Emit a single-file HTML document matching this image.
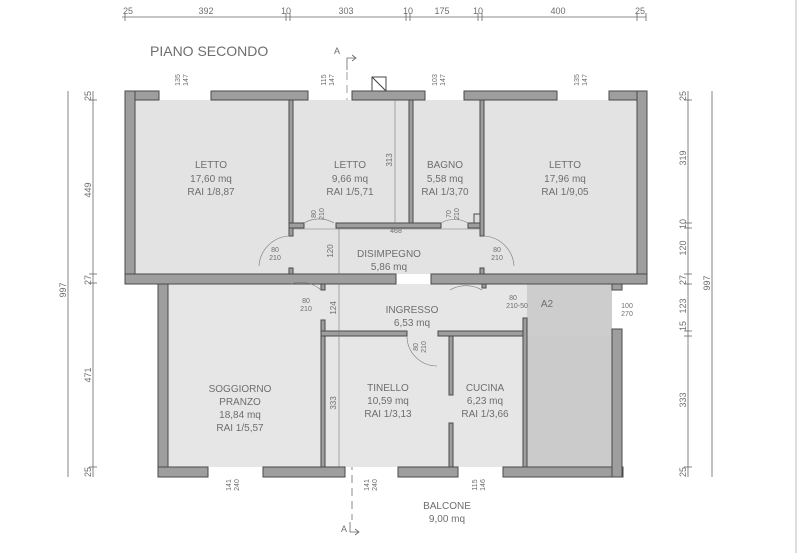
<!DOCTYPE html>
<html><head><meta charset="utf-8"><style>
html,body{margin:0;padding:0;background:#fff;}
svg{display:block;}
text{font-family:"Liberation Sans",sans-serif;fill:#6e6e6e;}
</style></head><body>
<svg width="800" height="553" viewBox="0 0 800 553" xmlns="http://www.w3.org/2000/svg">
<rect width="800" height="553" fill="#fff"/>
<line x1="796" y1="0" x2="796" y2="553" stroke="#ddd" stroke-width="2"/>
<g stroke="#666" stroke-width="0.8" fill="none">
<line x1="122" y1="17" x2="646" y2="17"/>
<line x1="125" y1="13" x2="125" y2="21"/><line x1="286" y1="13" x2="286" y2="21"/><line x1="290" y1="13" x2="290" y2="21"/>
<line x1="406" y1="13" x2="406" y2="21"/><line x1="410" y1="13" x2="410" y2="21"/><line x1="478" y1="13" x2="478" y2="21"/><line x1="482" y1="13" x2="482" y2="21"/><line x1="637" y1="13" x2="637" y2="21"/><line x1="646" y1="13" x2="646" y2="21"/>
<line x1="68" y1="91" x2="68" y2="477"/><line x1="93" y1="91" x2="93" y2="477"/>
<line x1="89" y1="100" x2="97" y2="100"/><line x1="89" y1="283" x2="97" y2="283"/><line x1="89" y1="274" x2="97" y2="274"/><line x1="89" y1="467" x2="97" y2="467"/>
<line x1="688" y1="91" x2="688" y2="477"/><line x1="712" y1="91" x2="712" y2="477"/>
<line x1="684" y1="100" x2="692" y2="100"/><line x1="684" y1="223" x2="692" y2="223"/><line x1="684" y1="228" x2="692" y2="228"/><line x1="684" y1="274" x2="692" y2="274"/><line x1="684" y1="284" x2="692" y2="284"/><line x1="684" y1="331" x2="692" y2="331"/><line x1="684" y1="336" x2="692" y2="336"/><line x1="684" y1="467" x2="692" y2="467"/>
</g>
<g font-size="9" text-anchor="middle">
<text x="128" y="14">25</text><text x="206" y="14">392</text><text x="286" y="14">10</text><text x="346" y="14">303</text><text x="408" y="14">10</text><text x="442" y="14">175</text><text x="478" y="14">10</text><text x="558" y="14">400</text><text x="640" y="14">25</text>
</g>
<g font-size="9" text-anchor="middle">
<text transform="translate(66,290) rotate(-90)">997</text>
<text transform="translate(91,96) rotate(-90)">25</text><text transform="translate(91,190) rotate(-90)">449</text><text transform="translate(91,280) rotate(-90)">27</text><text transform="translate(91,375) rotate(-90)">471</text><text transform="translate(91,472) rotate(-90)">25</text>
<text transform="translate(686,96) rotate(-90)">25</text><text transform="translate(686,158) rotate(-90)">319</text><text transform="translate(686,224) rotate(-90)">10</text><text transform="translate(686,248) rotate(-90)">120</text><text transform="translate(686,280) rotate(-90)">27</text><text transform="translate(686,306) rotate(-90)">123</text><text transform="translate(686,326) rotate(-90)">15</text><text transform="translate(686,400) rotate(-90)">333</text><text transform="translate(686,472) rotate(-90)">25</text>
<text transform="translate(710,283) rotate(-90)">997</text>
</g>
<text x="150" y="56" font-size="14">PIANO SECONDO</text>
<text x="334" y="54" font-size="9">A</text>
<path d="M347 70 V58 H355 M352 55 L356 58 L352 61" stroke="#666" fill="none" stroke-width="0.8"/>
<line x1="347" y1="72" x2="347" y2="140" stroke="#888" stroke-width="0.8" stroke-dasharray="8,5"/>
<line x1="352" y1="462" x2="352" y2="520" stroke="#888" stroke-width="1" stroke-dasharray="8,5"/>
<text x="341" y="532" font-size="9">A</text>
<path d="M350 522 V532 H358 M355 529 L359 532 L355 535" stroke="#666" fill="none" stroke-width="0.8"/>
<rect x="372" y="77" width="14" height="14" fill="#fff" stroke="#444" stroke-width="1"/>
<line x1="372" y1="77" x2="386" y2="91" stroke="#444"/>
<rect x="135" y="100" width="502" height="174" fill="#e3e3e3"/>
<rect x="168" y="284" width="444" height="183" fill="#e6e6e6"/>
<rect x="527" y="336" width="85" height="131" fill="#cbcbcb"/>
<rect x="527" y="284" width="85" height="52" fill="#cdcdcd"/>
<rect x="396" y="274" width="35" height="10" fill="#fff"/>
<g fill="#9e9e9e" stroke="#4a4a4a" stroke-width="1">
<rect x="125" y="91" width="34" height="9"/><rect x="211" y="91" width="97" height="9"/><rect x="352" y="91" width="73" height="9"/><rect x="464" y="91" width="93" height="9"/><rect x="609" y="91" width="38" height="9"/>
<rect x="125" y="91" width="10" height="193"/>
<rect x="637" y="91" width="10" height="193"/>
<rect x="125" y="274" width="271" height="10"/><rect x="431" y="274" width="216" height="10"/>
<rect x="289" y="100" width="4" height="136"/><rect x="289" y="268" width="4" height="6"/>
<rect x="289" y="223" width="15" height="5"/><rect x="336" y="223" width="105" height="5"/><rect x="468" y="223" width="15" height="5"/>
<rect x="409" y="100" width="4" height="123"/>
<rect x="480" y="100" width="4" height="136"/><rect x="480" y="268" width="4" height="6"/>
<rect x="474" y="214" width="6" height="9" fill="#ddd"/>
<rect x="158" y="284" width="10" height="193"/>
<rect x="158" y="467" width="50" height="10"/><rect x="263" y="467" width="82" height="10"/><rect x="398" y="467" width="60" height="10"/><rect x="503" y="467" width="120" height="10"/>
<rect x="612" y="284" width="10" height="6"/><rect x="612" y="329" width="10" height="148"/>
<rect x="321" y="284" width="4" height="6"/><rect x="321" y="320" width="4" height="147"/>
<rect x="321" y="331" width="86" height="5"/><rect x="438" y="331" width="89" height="5"/>
<rect x="449" y="336" width="4" height="59"/><rect x="449" y="423" width="4" height="44"/>
<rect x="523" y="318" width="4" height="149"/><rect x="482" y="284" width="4" height="4"/>
</g>
<g stroke="#777" stroke-width="0.6" fill="none">
<line x1="339" y1="284" x2="339" y2="467"/>
<line x1="339" y1="228" x2="339" y2="274"/>
<line x1="395" y1="100" x2="395" y2="223"/>
<line x1="293" y1="229" x2="480" y2="229"/>
<path d="M304 223 A30 30 0 0 1 334 223"/><path d="M289 236 A32 32 0 0 0 259 266"/>
<path d="M441 223 A27 27 0 0 1 468 223"/><path d="M484 236 A32 32 0 0 1 514 266"/>
<path d="M321 290 A30 30 0 0 0 291 284"/><path d="M482 290 A32 32 0 0 0 450 290"/>
<path d="M407 336 A30 30 0 0 0 437 366"/>
</g>
<g font-size="10" text-anchor="middle">
<text x="211" y="168">LETTO</text><text x="211" y="182">17,60 mq</text><text x="211" y="195">RAI 1/8,87</text>
<text x="350" y="168">LETTO</text><text x="350" y="182">9,66 mq</text><text x="350" y="195">RAI 1/5,71</text>
<text x="445" y="168">BAGNO</text><text x="445" y="182">5,58 mq</text><text x="445" y="195">RAI 1/3,70</text>
<text x="565" y="168">LETTO</text><text x="565" y="182">17,96 mq</text><text x="565" y="195">RAI 1/9,05</text>
<text x="389" y="257">DISIMPEGNO</text><text x="389" y="270">5,86 mq</text>
<text x="412" y="313">INGRESSO</text><text x="412" y="326">6,53 mq</text>
<text x="547" y="307">A2</text>
<text x="240" y="392">SOGGIORNO</text><text x="240" y="405">PRANZO</text><text x="240" y="418">18,84 mq</text><text x="240" y="431">RAI 1/5,57</text>
<text x="388" y="391">TINELLO</text><text x="388" y="404">10,59 mq</text><text x="388" y="417">RAI 1/3,13</text>
<text x="485" y="391">CUCINA</text><text x="485" y="404">6,23 mq</text><text x="485" y="417">RAI 1/3,66</text>
<text x="447" y="509">BALCONE</text><text x="447" y="522">9,00 mq</text>
</g>
<g font-size="7" text-anchor="middle">
<text x="275" y="252">80</text><text x="275" y="260">210</text>
<text x="497" y="252">80</text><text x="497" y="260">210</text>
<text x="306" y="303">80</text><text x="306" y="311">210</text>
<text x="513" y="300">80</text><text x="517" y="308">210-50</text>
<text x="627" y="308">100</text><text x="627" y="316">270</text>
<text x="396" y="233">468</text>
<text transform="translate(316,214) rotate(-90)">80</text><text transform="translate(324,214) rotate(-90)">210</text>
<text transform="translate(451,214) rotate(-90)">70</text><text transform="translate(459,214) rotate(-90)">210</text>
<text transform="translate(418,347) rotate(-90)">80</text><text transform="translate(426,347) rotate(-90)">210</text>
<text transform="translate(333,251) rotate(-90)" font-size="8">120</text>
<text transform="translate(336,308) rotate(-90)" font-size="8">124</text>
<text transform="translate(336,403) rotate(-90)" font-size="8">333</text>
<text transform="translate(392,160) rotate(-90)" font-size="8">313</text>
<text transform="translate(180,80) rotate(-90)">135</text><text transform="translate(188,80) rotate(-90)">147</text>
<text transform="translate(326,80) rotate(-90)">115</text><text transform="translate(334,80) rotate(-90)">147</text>
<text transform="translate(437,80) rotate(-90)">103</text><text transform="translate(445,80) rotate(-90)">147</text>
<text transform="translate(579,80) rotate(-90)">135</text><text transform="translate(587,80) rotate(-90)">147</text>
<text transform="translate(231,485) rotate(-90)">141</text><text transform="translate(239,485) rotate(-90)">240</text>
<text transform="translate(369,485) rotate(-90)">141</text><text transform="translate(377,485) rotate(-90)">240</text>
<text transform="translate(477,485) rotate(-90)">115</text><text transform="translate(485,485) rotate(-90)">146</text>
</g>
</svg>
</body></html>
